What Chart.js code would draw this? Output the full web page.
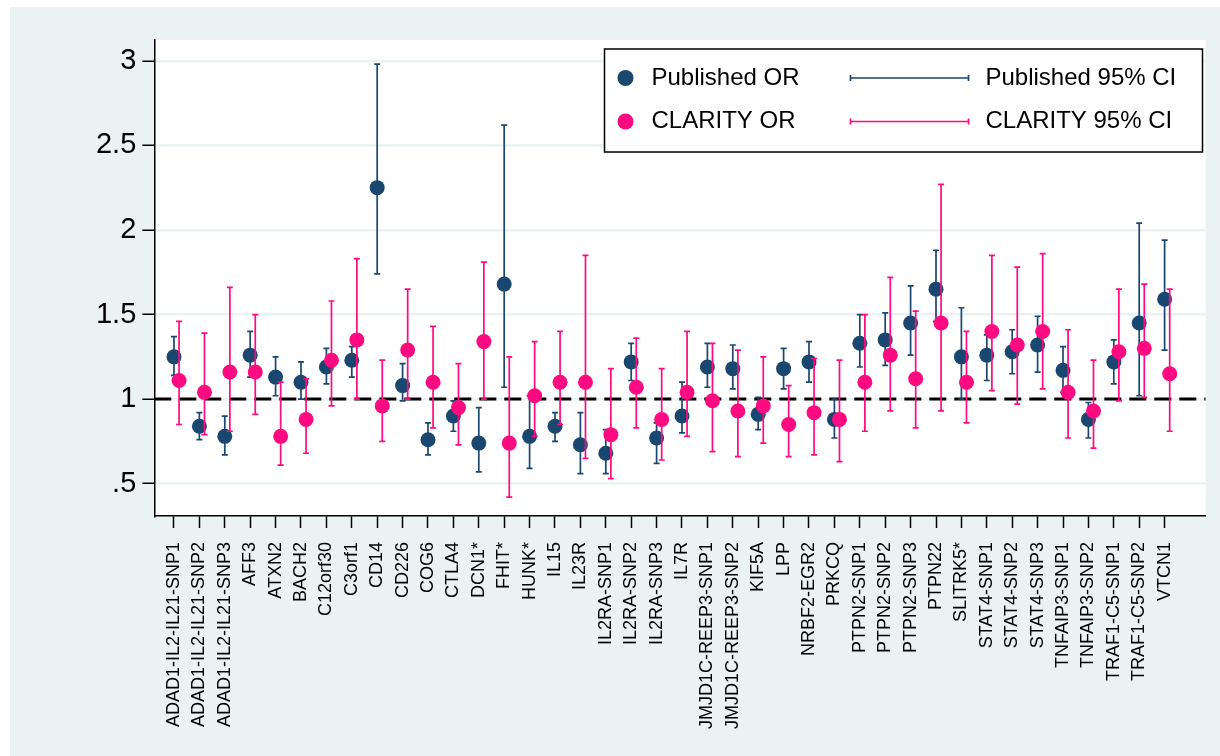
<!DOCTYPE html>
<html lang="en">
<head>
    <meta charset="UTF-8">
    <title>Published vs CLARITY odds ratios</title>
    <script src="https://cdn.jsdelivr.net/npm/chart.js"></script>
    <style>
        body {
            margin: 0;
            padding: 0;
            background-color: #fff;
        }
        .frame {
            position: absolute;
            left: 10px;
            top: 7px;
            width: 1210px;
            height: 749px;
            background-color: #eaf2f3;
        }
    </style>
</head>
<body>
    <div class="frame">
        <canvas id="orChart" width="1210" height="749"></canvas>
    </div>

    <script>
        const genes = ['ADAD1-IL2-IL21-SNP1', 'ADAD1-IL2-IL21-SNP2', 'ADAD1-IL2-IL21-SNP3', 'AFF3', 'ATXN2',
            'BACH2', 'C12orf30', 'C3orf1', 'CD14', 'CD226', 'COG6', 'CTLA4', 'DCN1*', 'FHIT*', 'HUNK*',
            'IL15', 'IL23R', 'IL2RA-SNP1', 'IL2RA-SNP2', 'IL2RA-SNP3', 'IL7R', 'JMJD1C-REEP3-SNP1',
            'JMJD1C-REEP3-SNP2', 'KIF5A', 'LPP', 'NRBF2-EGR2', 'PRKCQ', 'PTPN2-SNP1', 'PTPN2-SNP2',
            'PTPN2-SNP3', 'PTPN22', 'SLITRK5*', 'STAT4-SNP1', 'STAT4-SNP2', 'STAT4-SNP3', 'TNFAIP3-SNP1',
            'TNFAIP3-SNP2', 'TRAF1-C5-SNP1', 'TRAF1-C5-SNP2', 'VTCN1'];

        const publishedOR = [1.25, 0.84, 0.78, 1.26, 1.13, 1.10, 1.19, 1.23, 2.25, 1.08, 0.76, 0.90, 0.74, 1.68, 0.78,
            0.84, 0.73, 0.68, 1.22, 0.77, 0.90, 1.19, 1.18, 0.91, 1.18, 1.22, 0.88, 1.33, 1.35, 1.45,
            1.65, 1.25, 1.26, 1.28, 1.32, 1.17, 0.88, 1.22, 1.45, 1.59];
        const publishedLo = [1.14, 0.76, 0.67, 1.13, 1.02, 1.00, 1.09, 1.13, 1.74, 0.99, 0.67, 0.81, 0.57, 1.07, 0.59,
            0.75, 0.56, 0.56, 1.11, 0.62, 0.80, 1.07, 1.06, 0.82, 1.06, 1.10, 0.77, 1.19, 1.20, 1.26,
            1.46, 1.00, 1.11, 1.15, 1.16, 1.04, 0.77, 1.09, 1.02, 1.29];
        const publishedHi = [1.37, 0.92, 0.90, 1.40, 1.25, 1.22, 1.30, 1.31, 2.98, 1.21, 0.86, 0.99, 0.95, 2.62, 1.02,
            0.92, 0.92, 0.82, 1.33, 0.86, 1.10, 1.33, 1.32, 1.01, 1.30, 1.34, 1.00, 1.50, 1.51, 1.67,
            1.88, 1.54, 1.38, 1.41, 1.49, 1.31, 0.98, 1.35, 2.04, 1.94];

        const clarityOR = [1.11, 1.04, 1.16, 1.16, 0.78, 0.88, 1.23, 1.35, 0.96, 1.29, 1.10, 0.95, 1.34, 0.74, 1.02,
            1.10, 1.10, 0.79, 1.07, 0.88, 1.04, 0.99, 0.93, 0.96, 0.85, 0.92, 0.88, 1.10, 1.26, 1.12,
            1.45, 1.10, 1.40, 1.32, 1.40, 1.04, 0.93, 1.28, 1.30, 1.15];
        const clarityLo = [0.85, 0.79, 0.81, 0.91, 0.61, 0.68, 0.96, 1.00, 0.75, 1.00, 0.83, 0.73, 1.00, 0.42, 0.78,
            0.85, 0.65, 0.53, 0.83, 0.64, 0.78, 0.69, 0.66, 0.74, 0.66, 0.67, 0.63, 0.81, 0.93, 0.83,
            0.93, 0.86, 1.05, 0.97, 1.06, 0.77, 0.71, 0.99, 1.01, 0.81];
        const clarityHi = [1.46, 1.39, 1.66, 1.50, 1.10, 1.12, 1.58, 1.83, 1.23, 1.65, 1.43, 1.21, 1.81, 1.25, 1.34,
            1.40, 1.85, 1.18, 1.36, 1.18, 1.40, 1.33, 1.29, 1.25, 1.08, 1.24, 1.23, 1.50, 1.72, 1.52,
            2.27, 1.40, 1.85, 1.78, 1.86, 1.41, 1.23, 1.65, 1.68, 1.65];

        const yTicks = [0.5, 1, 1.5, 2, 2.5, 3];

        const navy = '#1a476f';
        const pink = '#ff0a80';
        const font = '"Liberation Sans", Arial, sans-serif';
        const clarityShift = 0.2;

        // white plot region on the tinted graph background
        const plotFill = {
            id: 'plotFill',
            beforeDraw(chart) {
                const a = chart.chartArea;
                chart.ctx.save();
                chart.ctx.fillStyle = '#fff';
                chart.ctx.fillRect(a.left, a.top, a.right - a.left, a.bottom - a.top);
                chart.ctx.restore();
            }
        };

        // 95% CI bars, drawn just before the points of the same series
        const ciPlugin = {
            id: 'ciBars',
            beforeDatasetDraw(chart, args) {
                const ds = chart.data.datasets[args.index];
                const x = chart.scales.x;
                const y = chart.scales.y;
                const ctx = chart.ctx;
                ctx.save();
                ctx.strokeStyle = ds.backgroundColor;
                ctx.lineWidth = 1.7;
                ds.ci.lo.forEach((lo, i) => {
                    const px = x.getPixelForValue(ds.data[i].x);
                    const p1 = y.getPixelForValue(lo);
                    const p2 = y.getPixelForValue(ds.ci.hi[i]);
                    ctx.beginPath();
                    ctx.moveTo(px, p1);
                    ctx.lineTo(px, p2);
                    ctx.moveTo(px - 3, p1);
                    ctx.lineTo(px + 3, p1);
                    ctx.moveTo(px - 3, p2);
                    ctx.lineTo(px + 3, p2);
                    ctx.stroke();
                });
                ctx.restore();
            }
        };

        // dashed reference line at OR = 1
        const refLine = {
            id: 'refLine',
            beforeDatasetsDraw(chart) {
                const ctx = chart.ctx;
                const area = chart.chartArea;
                const py = chart.scales.y.getPixelForValue(1);
                ctx.save();
                ctx.strokeStyle = '#000';
                ctx.lineWidth = 3;
                ctx.setLineDash([17, 8]);
                ctx.beginPath();
                ctx.moveTo(area.left, py);
                ctx.lineTo(area.right, py);
                ctx.stroke();
                ctx.restore();
            }
        };

        // two-column legend box in the top right corner
        const boxLegend = {
            id: 'boxLegend',
            afterDraw(chart) {
                const ctx = chart.ctx;
                const area = chart.chartArea;
                const left = area.right - 601;
                const top = area.top + 9;
                ctx.save();
                ctx.fillStyle = '#fff';
                ctx.fillRect(left, top, 598, 103);
                ctx.strokeStyle = '#000';
                ctx.lineWidth = 1.5;
                ctx.strokeRect(left, top, 598, 103);

                const rows = [
                    { color: navy, dot: 'Published OR', line: 'Published 95% CI' },
                    { color: pink, dot: 'CLARITY OR', line: 'CLARITY 95% CI' }
                ];
                ctx.font = '24px ' + font;
                ctx.textBaseline = 'middle';
                rows.forEach((r, i) => {
                    const cy = top + 29 + i * 43.5;
                    ctx.fillStyle = r.color;
                    ctx.beginPath();
                    ctx.arc(left + 21, cy, 8, 0, Math.PI * 2);
                    ctx.fill();

                    ctx.strokeStyle = r.color;
                    ctx.lineWidth = 1.7;
                    ctx.beginPath();
                    ctx.moveTo(left + 246, cy);
                    ctx.lineTo(left + 364, cy);
                    ctx.moveTo(left + 246, cy - 3);
                    ctx.lineTo(left + 246, cy + 3);
                    ctx.moveTo(left + 364, cy - 3);
                    ctx.lineTo(left + 364, cy + 3);
                    ctx.stroke();

                    ctx.fillStyle = '#000';
                    ctx.fillText(r.dot, left + 47, cy);
                    ctx.fillText(r.line, left + 381, cy);
                });
                ctx.restore();
            }
        };

        const chart = new Chart(document.getElementById('orChart'), {
            type: 'scatter',
            data: {
                datasets: [
                    {
                        label: 'CLARITY OR',
                        data: clarityOR.map((v, i) => ({ x: i + 1 + clarityShift, y: v })),
                        ci: { lo: clarityLo, hi: clarityHi },
                        backgroundColor: pink,
                        pointRadius: 7.5,
                        borderWidth: 0,
                        order: 1
                    },
                    {
                        label: 'Published OR',
                        data: publishedOR.map((v, i) => ({ x: i + 1, y: v })),
                        ci: { lo: publishedLo, hi: publishedHi },
                        backgroundColor: navy,
                        pointRadius: 7.5,
                        borderWidth: 0,
                        order: 2
                    }
                ]
            },
            options: {
                responsive: false,
                animation: false,
                events: [],
                layout: {
                    padding: { top: 33, right: 14.5, left: 0, bottom: 0 }
                },
                plugins: {
                    legend: { display: false },
                    tooltip: { enabled: false }
                },
                scales: {
                    x: {
                        type: 'linear',
                        min: 0.225,
                        max: 41.61,
                        afterBuildTicks: (scale) => {
                            scale.ticks = genes.map((g, i) => ({ value: i + 1 }));
                        },
                        afterFit: (scale) => {
                            scale.height = 240;
                        },
                        border: { display: true, color: '#000', width: 1.5 },
                        grid: {
                            drawOnChartArea: false,
                            drawTicks: true,
                            tickLength: 12,
                            tickColor: '#000',
                            tickWidth: 1.5
                        },
                        ticks: {
                            autoSkip: false,
                            minRotation: 90,
                            maxRotation: 90,
                            padding: 14,
                            color: '#000',
                            font: { family: font, size: 18 },
                            callback: (v) => genes[v - 1] || ''
                        }
                    },
                    y: {
                        min: 0.309,
                        max: 3.123,
                        afterBuildTicks: (scale) => {
                            scale.ticks = yTicks.map(v => ({ value: v }));
                        },
                        afterFit: (scale) => {
                            scale.width = 144.3;
                        },
                        border: { display: true, color: '#000', width: 1.5 },
                        grid: {
                            color: '#eaf2f3',
                            lineWidth: 2.5,
                            drawTicks: true,
                            tickLength: 12,
                            tickColor: '#000',
                            tickWidth: 1.5
                        },
                        ticks: {
                            padding: 6,
                            color: '#000',
                            font: { family: font, size: 29 },
                            callback: (v) => v === 0.5 ? '.5' : String(v)
                        }
                    }
                }
            },
            plugins: [plotFill, refLine, ciPlugin, boxLegend]
        });
    </script>
</body>
</html>
